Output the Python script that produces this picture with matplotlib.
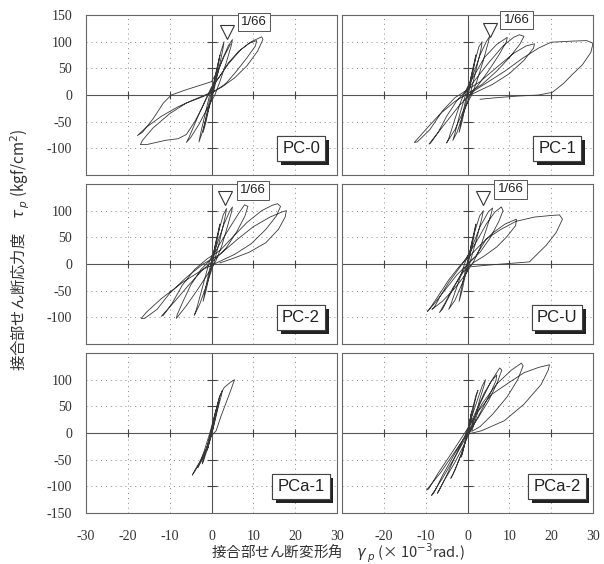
import matplotlib
matplotlib.use('Agg')
import matplotlib.pyplot as plt
import matplotlib.patheffects as pe

plt.rcParams['font.family'] = ['Noto Sans CJK JP', 'DejaVu Sans']

# hysteresis paths: (gamma x1e-3 rad, tau kgf/cm2), one row per cycle
pc0 = [(0, 0), (1, 40), (2, 75), (1.6, 55), (0.6, 15), (-0.5, -20), (-1.3, -50), (-2, -70), (-1.6, -52), (-0.6, -15), (0.3, 15),
       (1.2, 45), (2.2, 80), (3, 100), (2.7, 85), (1.5, 40), (0.3, 0), (-1, -35), (-2.2, -70), (-3, -88), (-2.6, -72), (-1.5, -35), (-0.3, 5),
       (1, 30), (2.5, 65), (4, 92), (5, 104), (4.7, 92), (3.5, 60), (2, 25), (0.8, 0), (-1, -25), (-3, -55), (-5, -80), (-6, -89), (-5.4, -80), (-3.5, -45), (-1.5, -10), (0, 15),
       (2, 35), (4, 60), (6.5, 82), (9, 97), (10.8, 102), (10.5, 92), (8.5, 70), (6, 45), (3.5, 22), (1, 8), (-2, -3), (-6, -15), (-10, -35), (-14, -62), (-16.5, -85), (-17, -93), (-15.5, -93), (-11, -85), (-8, -82), (-6, -74), (-4, -50), (-2, -20), (-0.5, 5),
       (1.5, 30), (4, 58), (7, 85), (9.5, 100), (12, 109), (12.3, 104), (11, 82), (8.5, 55), (5.5, 32), (2.5, 15), (0, 5), (-4, -8), (-8, -22), (-12, -40), (-15.5, -60), (-17.7, -76), (-16.5, -70), (-14, -45), (-11.5, -15), (-9.6, 0), (-6, 10), (-2, 20), (0, 25), (1.5, 45), (3, 72), (4.5, 95)]

pc1 = [(0, 0), (1, 40), (2, 75), (1.6, 55), (0.6, 15), (-0.5, -20), (-1.3, -50), (-2, -70), (-1.6, -52), (-0.6, -15), (0.3, 15),
       (1.5, 55), (2.7, 90), (3.5, 100), (3.2, 85), (2, 45), (0.6, 0), (-1, -35), (-2.5, -70), (-3.5, -85), (-3, -72), (-1.8, -35), (-0.3, 5),
       (1, 30), (3, 75), (4.5, 100), (5.3, 110), (5, 100), (3.8, 65), (2.2, 25), (1, 0), (-1, -30), (-3, -65), (-5, -90), (-4.5, -82), (-3, -45), (-1.5, -10), (0, 15),
       (1.5, 35), (4, 70), (7, 95), (9.5, 108), (9.3, 100), (7.5, 75), (5, 45), (2.5, 18), (0.5, 0), (-2, -20), (-5, -50), (-7.5, -75), (-9.2, -92), (-8.8, -90), (-7, -70), (-5, -40), (-2.5, -10), (0, 10),
       (2, 30), (5, 60), (8.5, 92), (11, 108), (12.4, 113), (13.5, 110), (12.5, 95), (10, 70), (7, 45), (3.5, 20), (0.5, 5), (-3, -12), (-6.5, -35), (-10, -65), (-12.7, -89), (-12, -88), (-9, -65), (-6, -30), (-3, -5), (0, 10),
       (3, 25), (7, 52), (11, 78), (14, 92), (16, 96), (15.8, 88), (13.5, 65), (10, 40), (6, 20), (2, 5), (0, -2),
       (2, 10), (5, 25), (9, 45), (13, 68), (17, 88), (20, 99), (25, 101), (28.5, 102), (30, 97), (29.5, 80), (27.5, 57), (25, 38), (23, 22), (20.3, 5), (17, 0), (12, -2), (7, -5), (3, -8)]

pc2 = [(0, 0), (1, 40), (2, 75), (1.6, 55), (0.6, 15), (-0.5, -20), (-1.3, -50), (-2, -70), (-1.6, -52), (-0.6, -15), (0.3, 15),
       (1.5, 55), (2.8, 92), (3.6, 104), (3.3, 90), (2, 45), (0.5, 0), (-1.2, -40), (-2.8, -75), (-4.1, -96), (-3.6, -85), (-2.2, -45), (-0.5, 5),
       (1, 30), (3, 75), (4.3, 98), (5, 107), (4.8, 98), (3.8, 70), (2.5, 35), (1, 5), (-1, -20), (-3.5, -50), (-6, -78), (-8.4, -102), (-8.2, -95), (-6.8, -70), (-5, -40), (-2.5, -10), (0, 10),
       (2, 38), (4.5, 70), (6.5, 95), (7.9, 111), (8.7, 108), (8, 90), (6, 60), (3.5, 30), (1, 10), (-2, -10), (-5.5, -40), (-9, -72), (-12, -98), (-11.5, -96), (-9.5, -75), (-7, -40), (-4, -10), (-1, 10),
       (2, 25), (5, 50), (8.5, 78), (12, 100), (14.5, 110), (15.8, 113), (16.5, 108), (15.5, 90), (13, 65), (9.5, 38), (5.5, 18), (2, 5), (-2, -10), (-7, -35), (-12, -65), (-15.5, -90), (-16.8, -102), (-16, -102), (-13, -85), (-10, -55), (-6, -25), (-2, 0),
       (2, 18), (6, 45), (10, 70), (14, 88), (17, 98), (17.9, 100), (17.6, 88), (16, 65), (13, 40), (9, 22), (5, 10), (2, 2)]

pcu = [(0, 0), (1, 40), (2, 75), (1.6, 55), (0.6, 15), (-0.5, -20), (-1.3, -50), (-2, -70), (-1.6, -52), (-0.6, -15), (0.3, 15),
       (1.5, 55), (2.9, 90), (3.8, 100), (3.4, 85), (2, 42), (0.5, 0), (-1.2, -35), (-3, -68), (-4.5, -85), (-4, -76), (-2.4, -40), (-0.5, 5),
       (1, 30), (3, 70), (5, 98), (6, 105), (5.7, 95), (4.5, 65), (3, 30), (1.5, 5), (-0.5, -20), (-3, -45), (-6, -70), (-8.5, -85), (-8, -82), (-6.5, -60), (-4.5, -35), (-2, -8), (0, 15),
       (2, 40), (4.5, 75), (6.5, 97), (8.1, 107), (8.5, 100), (7.5, 80), (5.5, 50), (3, 22), (0.5, 3), (-2.5, -20), (-5.5, -50), (-8, -75), (-9.6, -89), (-9.2, -86), (-7, -60), (-4.5, -30), (-2, -5), (0.5, 15),
       (3, 35), (6, 58), (9, 75), (11.7, 84), (11.5, 72), (9.5, 52), (7, 32), (4, 15), (1.5, 3), (-1, -15), (-3.5, -45), (-5.5, -75), (-6.7, -91), (-6, -85), (-4, -55), (-2, -25), (0, 0),
       (2, 15), (4.5, 47), (8, 65), (11.6, 80), (16, 88), (20, 91), (22, 92), (22.7, 84), (21.2, 59), (18.8, 35), (14.8, 4), (10, 1), (5, -2), (1, -5)]

pca1 = [(0, 0), (0.4, 15), (1, 38), (0.8, 28), (0.2, 5), (-0.4, -15), (-1, -32), (-0.8, -25), (-0.1, 0),
        (0.7, 30), (1.5, 55), (1.8, 62), (1.6, 52), (0.8, 25), (0, -3), (-0.8, -25), (-1.8, -50), (-2.2, -58), (-2, -50), (-1.2, -30), (-0.2, 0),
        (0.8, 35), (1.8, 65), (2.6, 80), (2.4, 72), (1.5, 45), (0.3, 5), (-1, -25), (-2.2, -50), (-3.3, -65), (-3, -60), (-1.8, -35), (-0.4, 0),
        (1, 40), (2, 70), (3, 85), (4.5, 95), (5.5, 100), (4.6, 80), (3.4, 55), (2.2, 30), (1.1, 4), (0, -5), (-1, -25), (-2.5, -50), (-4, -70), (-4.6, -79), (-4, -72), (-2.5, -52), (-1.2, -30), (-0.2, -2)]

pca2 = [(0, 0), (0.5, 20), (1, 40), (0.8, 32), (0.1, 3), (-0.8, -25), (-1.5, -45), (-1.2, -38), (-0.2, -5),
        (1, 40), (2, 70), (2.5, 80), (2.1, 70), (0.8, 25), (-1, -30), (-3, -70), (-4, -85), (-3.5, -78), (-1.5, -40), (0.3, 5),
        (1, 30), (2.5, 65), (3.5, 88), (4.3, 100), (4, 90), (3, 65), (2, 35), (0.8, 5), (-1, -25), (-3, -55), (-5.5, -88), (-7.2, -113), (-6.8, -108), (-5, -80), (-3, -45), (-1, -12), (0.5, 15),
        (2, 40), (4, 75), (5.8, 98), (7, 109), (6.8, 98), (5.5, 75), (3.5, 45), (1.5, 15), (-0.5, -10), (-3, -45), (-6, -85), (-8.6, -117), (-8, -112), (-6, -80), (-3.5, -45), (-1, -12), (1, 15),
        (3, 55), (5.5, 95), (7.7, 122), (8.2, 118), (7, 92), (5, 60), (2.5, 28), (0, 0), (-3, -35), (-6.5, -75), (-9.8, -107), (-9.3, -105), (-7, -75), (-4, -40), (-1.5, -10), (1, 20),
        (3.5, 55), (7, 92), (10.5, 118), (12.9, 131), (13.3, 126), (12, 100), (9.5, 68), (6, 35), (3, 12), (1, 3),
        (2.5, 40), (5.7, 72), (10, 95), (13.5, 113), (17, 123), (19.6, 128), (19.3, 118), (17.6, 91), (13.5, 54), (8.8, 23), (3.3, 4), (0, -2)]

names = ['PC-0', 'PC-1', 'PC-2', 'PC-U', 'PCa-1', 'PCa-2']
paths = [pc0, pc1, pc2, pcu, pca1, pca2]

# 1/66 marker: (triangle gamma, triangle tau, label gamma, label tau); None = no marker
marks = [(3.6, 118, 10.2, 137), (5.3, 122, 11.7, 141),
         (3.3, 124, 9.9, 138), (3.8, 124, 10.3, 140), None, None]

xt = [-30, -20, -10, 0, 10, 20, 30]
yt = [-150, -100, -50, 0, 50, 100, 150]
xt_inner = [-20, -10, 10, 20]
yt_inner = [-100, -50, 50, 100]

fig = plt.figure(figsize=(6.04, 5.64), dpi=100)
lefts = [86 / 604, 342 / 604]
bottoms = [1 - 175 / 564, 1 - 344 / 564, 1 - 513 / 564]
w = 251 / 604
h = 160 / 564

line_c = '#383838'
serif = ['Liberation Serif', 'DejaVu Serif']
sans = ['Liberation Sans', 'DejaVu Sans']

for i in range(6):
    row, col = divmod(i, 2)
    ax = fig.add_axes([lefts[col], bottoms[row], w, h])
    g, t = zip(*paths[i])
    ax.plot(g, t, color=line_c, lw=0.6, zorder=3)
    ax.set_xlim(-30, 30)
    ax.set_ylim(-150, 150)
    ax.set_xticks(xt)
    ax.set_yticks(yt)
    ax.grid(True, ls=(0, (1, 4)), color='#888888', lw=0.7)
    ax.axhline(0, color='#555555', lw=0.8, zorder=2)
    ax.axvline(0, color='#555555', lw=0.8, zorder=2)
    # small crosses along the zero lines
    ax.plot(xt_inner, [0] * len(xt_inner), ls='none', marker='|', ms=6, mew=0.8, color='#444444', zorder=2)
    ax.plot([0] * len(yt_inner), yt_inner, ls='none', marker='_', ms=7, mew=0.8, color='#444444', zorder=2)
    for s in ax.spines.values():
        s.set_color('#666666')
        s.set_linewidth(0.8)
    ax.tick_params(length=0, labelsize=10, pad=10)

    if col == 0:
        ylab = [str(v) for v in yt]
        if row != 2:
            ylab[0] = ''
        if row != 0:
            ylab[-1] = ''
        ax.set_yticklabels(ylab, family=serif, color='#333333')
    else:
        ax.set_yticklabels([])
    if row == 2:
        xlab = [str(v) for v in xt]
        if col == 1:
            xlab[0] = ''
        ax.set_xticklabels(xlab, family=serif, color='#333333')
        ax.tick_params(axis='x', pad=12)
    else:
        ax.set_xticklabels([])

    txt = ax.text(0.857, 0.165, names[i], transform=ax.transAxes, ha='center', va='center',
                  fontsize=12, family=sans, color='#222222', zorder=6,
                  bbox=dict(boxstyle='square,pad=0.3', fc='white', ec='#444444', lw=0.8))
    txt.get_bbox_patch().set_path_effects([pe.withSimplePatchShadow(offset=(2.5, -2.5), shadow_rgbFace='#222222', alpha=1.0), pe.Normal()])

    if marks[i] is not None:
        tg, tt, lg, lt = marks[i]
        ax.plot([tg], [tt], marker='v', ms=10, mfc='white', mec='#333333', mew=0.8, clip_on=False, zorder=5)
        ax.text(lg, lt, '1/66', ha='center', va='center', fontsize=9.5, clip_on=False,
                family=sans, color='#222222', zorder=6,
                bbox=dict(boxstyle='square,pad=0.25', fc='white', ec='#555555', lw=0.7))

fig.text(20 / 604, 1 - 250 / 564, '接合部せん断応力度　$\\tau_{\\,p}$ (kgf/cm$^2$)', rotation=90,
         ha='center', va='center', fontsize=11, color='#333333')
fig.text(338 / 604, 1 - 553 / 564, '接合部せん断変形角　$\\gamma_{\\,p}$ (× 10$^{-3}$rad.)',
         ha='center', va='center', fontsize=10.5, color='#333333')

fig.savefig('out.png', dpi=100)
